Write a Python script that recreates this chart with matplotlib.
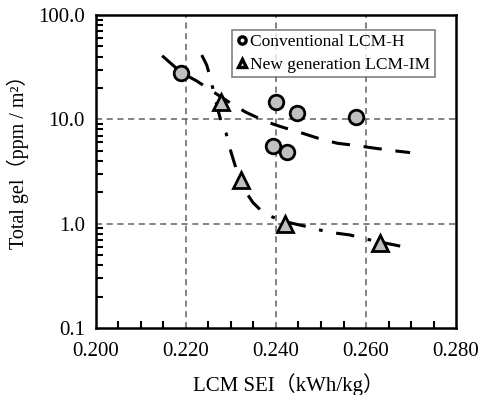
import numpy as np
import matplotlib
matplotlib.use("Agg")
import matplotlib.pyplot as plt
from matplotlib.ticker import FixedLocator, NullFormatter, MultipleLocator

plt.rcParams['font.family'] = ['Liberation Serif', 'Noto Sans CJK JP']

# -------------------------------------------------
# data
conv_sei = [0.2190, 0.2399, 0.2446, 0.2577, 0.2393, 0.2425]
conv_gel = [27.8, 14.6, 11.4, 10.5, 5.5, 4.9]

new_sei = [0.2278, 0.2322, 0.2421, 0.2630]
new_gel = [14.8, 2.6, 1.0, 0.66]

# trend lines
conv_trend_x = [0.2147, 0.2190, 0.2224, 0.2300, 0.2333, 0.2378, 0.2411, 0.2453,
                0.2493, 0.2536, 0.2580, 0.2618, 0.2662, 0.2698]
conv_trend_y = [40.7, 28.0, 23.3, 14.2, 11.7, 9.5, 8.5, 7.5,
                6.6, 5.9, 5.6, 5.3, 5.0, 4.8]

new_trend_x = [0.2235, 0.2246, 0.2252, 0.2260, 0.2271, 0.2279, 0.2289, 0.2298,
               0.2307, 0.2316, 0.2331, 0.2349, 0.2372, 0.2402, 0.2431, 0.2467,
               0.2502, 0.2535, 0.2564, 0.2602, 0.2636, 0.2676]
new_trend_y = [41.3, 33.2, 27.0, 19.5, 12.3, 9.2, 7.4, 5.2,
               3.87, 2.92, 2.07, 1.59, 1.27, 1.11, 1.02, 0.94,
               0.86, 0.81, 0.78, 0.71, 0.66, 0.61]

x_ticks = [0.200, 0.220, 0.240, 0.260, 0.280]
y_ticks = [0.1, 1.0, 10.0, 100.0]

# -------------------------------------------------

fig = plt.figure(figsize=(4.78, 3.95), dpi=100)
ax = fig.add_axes([0.2008, 0.1696, 0.7532, 0.7924])

ax.set_yscale("log")
ax.set_xlim(0.200, 0.280)
ax.set_ylim(0.1, 100)

ax.plot(conv_trend_x, conv_trend_y, color="black", lw=2.2,
        dashes=(6, 4.5), zorder=2)
ax.plot(new_trend_x, new_trend_y, color="black", lw=2.2,
        dashes=(6, 4.5, 1.2, 4.5), zorder=2)

ax.plot(conv_sei, conv_gel, "o", ms=10.5, mfc="#c0c0c0", mec="black",
        mew=2.0, ls="none", zorder=3, label="Conventional LCM-H")
ax.plot(new_sei, new_gel, "^", ms=11, mfc="#c0c0c0", mec="black",
        mew=2.0, ls="none", zorder=3, label="New generation LCM-IM")

# grid at the inner major ticks only
for xv in [0.220, 0.240, 0.260]:
    ax.axvline(xv, color="#606060", lw=1.1, dashes=(4, 3), zorder=1)
for yv in [1.0, 10.0]:
    ax.axhline(yv, color="#606060", lw=1.1, dashes=(4, 3), zorder=1)

ax.set_xticks(x_ticks)
ax.set_xticklabels(["%.3f" % v for v in x_ticks])
ax.xaxis.set_minor_locator(MultipleLocator(0.005))
ax.set_yticks(y_ticks)
ax.set_yticklabels(["%.1f" % v for v in y_ticks])
ax.yaxis.set_minor_locator(FixedLocator(
    [m * 10.0 ** e for e in range(-1, 2) for m in range(2, 10)]))
ax.yaxis.set_minor_formatter(NullFormatter())

ax.tick_params(which="both", direction="in", top=False, right=False,
               labelsize=15, width=1.5)
ax.tick_params(axis="x", pad=10)
ax.tick_params(axis="y", pad=8)
ax.tick_params(which="major", length=0)
ax.tick_params(which="minor", length=5)

for s in ax.spines.values():
    s.set_linewidth(1.8)

ax.set_xlabel("LCM SEI（kWh/kg）", fontsize=15)
ax.set_ylabel("Total gel（ppm / m²）", fontsize=14.5)
ax.xaxis.set_label_coords(0.535, -0.145)
ax.yaxis.set_label_coords(-0.185, 0.545)

leg = ax.legend(loc="upper right", bbox_to_anchor=(0.965, 0.98), fontsize=12.5,
                frameon=True, fancybox=False, edgecolor="#606060",
                handlelength=0.6, handletextpad=0.2, borderpad=0.25,
                labelspacing=0.35, markerscale=0.5)
leg.get_frame().set_linewidth(1.2)
for h in leg.legend_handles:
    h.set_markerfacecolor("white")
    h.set_markeredgewidth(2.4)

fig.savefig("out.png", dpi=100)
